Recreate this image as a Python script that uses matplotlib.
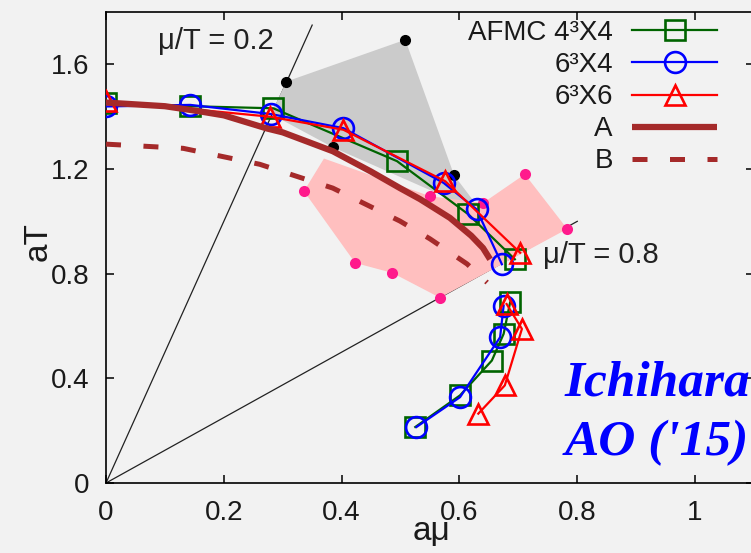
import matplotlib
matplotlib.use("Agg")
import matplotlib.pyplot as plt
from matplotlib.patches import Polygon
from matplotlib.ticker import FormatStrFormatter

plt.rcParams['font.family'] = ['Liberation Sans', 'DejaVu Sans']

# -------------------------------
# Data (aμ, aT)
# -------------------------------
# AFMC 4^3X4 (green squares), upper and lower branch
afmc_hi_x = [0.0, 0.143, 0.284, 0.494, 0.615, 0.694]
afmc_hi_y = [1.452, 1.440, 1.432, 1.230, 1.027, 0.855]
afmc_lo_x = [0.686, 0.675, 0.655, 0.601, 0.525]
afmc_lo_y = [0.690, 0.570, 0.468, 0.335, 0.214]

# 6^3X4 (blue circles)
l64_hi_x = [0.0, 0.143, 0.280, 0.403, 0.573, 0.629, 0.672]
l64_hi_y = [1.439, 1.445, 1.410, 1.356, 1.147, 1.046, 0.836]
l64_lo_x = [0.675, 0.669, 0.601, 0.527]
l64_lo_y = [0.678, 0.557, 0.328, 0.214]

# 6^3X6 (red triangles)
l66_hi_x = [0.0, 0.278, 0.403, 0.576, 0.703]
l66_hi_y = [1.460, 1.400, 1.350, 1.153, 0.880]
l66_lo_x = [0.680, 0.706, 0.677, 0.632]
l66_lo_y = [0.684, 0.589, 0.373, 0.265]

# curve A (solid) and B (dashed)
a_x = [0.0, 0.10, 0.160, 0.20, 0.273, 0.30, 0.385, 0.45, 0.499, 0.533, 0.584, 0.62, 0.640, 0.652]
a_y = [1.454, 1.440, 1.420, 1.405, 1.355, 1.340, 1.268, 1.190, 1.127, 1.085, 1.013, 0.945, 0.898, 0.855]
b_x = [0.0, 0.131, 0.261, 0.385, 0.499, 0.550, 0.613, 0.647]
b_y = [1.295, 1.279, 1.218, 1.127, 1.001, 0.933, 0.837, 0.766]

# shaded regions and their corner dots
gray_x = [0.306, 0.508, 0.591, 0.640, 0.385, 0.280]
gray_y = [1.534, 1.694, 1.176, 1.030, 1.283, 1.410]
black_x = [0.306, 0.508, 0.591, 0.385]
black_y = [1.534, 1.694, 1.176, 1.283]

pink_x = [0.336, 0.370, 0.550, 0.640, 0.711, 0.783, 0.567, 0.486, 0.423]
pink_y = [1.115, 1.240, 1.096, 1.070, 1.180, 0.971, 0.708, 0.803, 0.841]
pdot_x = [0.336, 0.550, 0.640, 0.711, 0.783, 0.567, 0.486, 0.423]
pdot_y = [1.115, 1.096, 1.070, 1.180, 0.971, 0.708, 0.803, 0.841]

# mu/T = const lines through the origin
line02_x = [0.0, 0.35]
line02_y = [0.0, 1.75]
line08_x = [0.0, 0.80]
line08_y = [0.0, 1.00]

# -------------------------------
# Figure
# -------------------------------
W, H = 751, 553
bg = '#f2f2f2'
fig = plt.figure(figsize=(W / 100, H / 100), dpi=100, facecolor=bg)
ax = fig.add_axes([106 / W, 70 / H, 648 / W, 471 / H], facecolor=bg)
ax.set_xlim(0, 1.1)
ax.set_ylim(0, 1.8)

ax.plot(line02_x, line02_y, color='#222222', lw=0.9, zorder=1)
ax.plot(line08_x, line08_y, color='#222222', lw=0.9, zorder=1)

ax.add_patch(Polygon(list(zip(gray_x, gray_y)), closed=True, facecolor='#cbcbcb',
                     edgecolor='none', zorder=2))
ax.add_patch(Polygon(list(zip(pink_x, pink_y)), closed=True, facecolor='#ffbfbf',
                     edgecolor='none', zorder=3))
ax.plot(black_x, black_y, 'o', color='black', ms=7, zorder=4)
ax.plot(pdot_x, pdot_y, 'o', color='#ff1a8c', ms=8, mec='none', zorder=4)

ser = dict(lw=1.6, mew=1.9, mfc='none', zorder=5)
ax.plot(afmc_hi_x, afmc_hi_y, color='#006400', marker='s', ms=14, label='AFMC 4³X4', **ser)
ax.plot(afmc_lo_x, afmc_lo_y, color='#006400', marker='s', ms=14, **ser)
ax.plot(l64_hi_x, l64_hi_y, color='#0000ff', marker='o', ms=15, label='6³X4', **ser)
ax.plot(l64_lo_x, l64_lo_y, color='#0000ff', marker='o', ms=15, **ser)
ax.plot(l66_hi_x, l66_hi_y, color='#ff0000', marker='^', ms=15, label='6³X6', **ser)
ax.plot(l66_lo_x, l66_lo_y, color='#ff0000', marker='^', ms=15, **ser)

ax.plot(a_x, a_y, color='#a52a2a', lw=4.5, solid_capstyle='butt', label='A', zorder=6)
ax.plot(b_x, b_y, color='#a52a2a', lw=3.6, dashes=(3, 4.5), dash_capstyle='butt',
        label='B', zorder=7)

ax.text(0.088, 1.66, 'μ/T = 0.2', fontsize=21, color='#222222', va='baseline', ha='left')
ax.text(0.742, 0.842, 'μ/T = 0.8', fontsize=21, color='#222222', va='baseline', ha='left')

# ticks and axes
ax.set_xticks([0, 0.2, 0.4, 0.6, 0.8, 1.0])
ax.set_yticks([0, 0.4, 0.8, 1.2, 1.6])
ax.xaxis.set_major_formatter(FormatStrFormatter('%g'))
ax.yaxis.set_major_formatter(FormatStrFormatter('%g'))
ax.tick_params(direction='in', length=6, width=1.1, top=True, right=True,
               labelsize=20, labelcolor='#1a1a1a')
ax.tick_params(axis='x', pad=12)
ax.tick_params(axis='y', pad=12)
for s in ax.spines.values():
    s.set_linewidth(1.2)

leg = ax.legend(loc='upper right', bbox_to_anchor=(717 / W, 1 - 20 / H),
                bbox_transform=fig.transFigure, frameon=False, markerfirst=False,
                numpoints=1, fontsize=20, handlelength=3.05, handletextpad=0.7,
                labelspacing=0.22, borderpad=0, borderaxespad=0)
for t in leg.get_texts():
    t.set_color('#1a1a1a')

fig.text(38 / W, 1 - 242 / H, 'aT', rotation=90, fontsize=24, ha='center', va='center',
         color='#1a1a1a')
fig.text(432 / W, 1 - 532 / H, 'aμ', fontsize=24, ha='center', va='center', color='#1a1a1a')

fig.text(565 / W, 158 / H, 'Ichihara', fontsize=37, color='#0000ff', family='Liberation Serif',
         weight='bold', style='italic', va='baseline')
fig.text(565 / W, 98 / H, "AO ('15)", fontsize=37, color='#0000ff', family='Liberation Serif',
         weight='bold', style='italic', va='baseline')

fig.savefig('out.png', dpi=100, facecolor=bg)
